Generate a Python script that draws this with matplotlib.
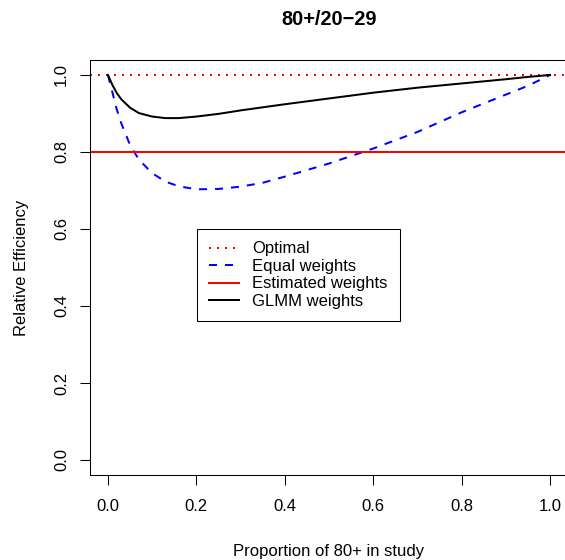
import matplotlib
matplotlib.use("Agg")
import matplotlib.pyplot as plt

plt.rcParams['font.family'] = ['Liberation Sans', 'DejaVu Sans']

# proportion of 80+ in study
prop = [0.0, 0.01, 0.02, 0.03, 0.05, 0.07, 0.10, 0.13, 0.16, 0.20, 0.25,
        0.30, 0.35, 0.40, 0.50, 0.60, 0.70, 0.80, 0.90, 0.95, 1.0]
# relative efficiency
equal_weights = [1.0, 0.955, 0.91, 0.875, 0.818, 0.780, 0.745, 0.723, 0.711, 0.703, 0.704,
                 0.710, 0.720, 0.736, 0.770, 0.809, 0.852, 0.903, 0.949, 0.972, 1.0]
glmm_weights = [1.0, 0.974, 0.953, 0.937, 0.915, 0.901, 0.892, 0.888, 0.888, 0.892, 0.899,
                0.908, 0.916, 0.924, 0.939, 0.954, 0.967, 0.978, 0.989, 0.995, 1.0]
optimal_level = 1.0
estimated_level = 0.8

ticks = [0.0, 0.2, 0.4, 0.6, 0.8, 1.0]
tick_labels = ["0.0", "0.2", "0.4", "0.6", "0.8", "1.0"]


def main():
    fig = plt.figure(figsize=(5.65, 5.6), dpi=100)
    ax = fig.add_axes([0.1598, 0.1511, 0.845, 0.7425])

    ax.axhline(optimal_level, color='#FF0000', lw=1.44, linestyle=(0, (1, 3)), label="Optimal")
    ax.plot(prop, equal_weights, color='#0000FF', lw=1.44, linestyle=(0, (4, 4)), label="Equal weights")
    ax.axhline(estimated_level, color='#FF0000', lw=1.44, label="Estimated weights")
    ax.plot(prop, glmm_weights, color='black', lw=1.44, label="GLMM weights")

    ax.set_xlim(-0.04, 1.04)
    ax.set_ylim(-0.04, 1.04)
    ax.set_xticks(ticks, tick_labels)
    ax.set_yticks(ticks, tick_labels)
    ax.tick_params(axis='both', length=7.2, width=0.75, labelsize=12, color='black')
    ax.tick_params(axis='x', pad=10)
    ax.tick_params(axis='y', pad=8)
    for lab in ax.get_yticklabels():
        lab.set_rotation(90)
        lab.set_va('center')
    for sp in ax.spines.values():
        sp.set_linewidth(0.75)
        sp.set_color('black')

    ax.set_title("80+/20\u221229", fontsize=14.4, fontweight='bold', pad=25)
    ax.set_xlabel("Proportion of 80+ in study", fontsize=12)
    ax.set_ylabel("Relative Efficiency", fontsize=12)
    ax.xaxis.set_label_coords(0.5, -0.165)
    ax.yaxis.set_label_coords(-0.129, 0.5)

    leg = ax.legend(loc='upper left', bbox_to_anchor=(0.2235, 0.5926), borderaxespad=0,
                    fontsize=12, fancybox=False, framealpha=1, edgecolor='black',
                    borderpad=0.75, labelspacing=0.15, handlelength=1.75, handletextpad=0.8)
    leg.get_frame().set_linewidth(0.75)

    fig.savefig("out.png", dpi=100)


if __name__ == "__main__":
    main()
